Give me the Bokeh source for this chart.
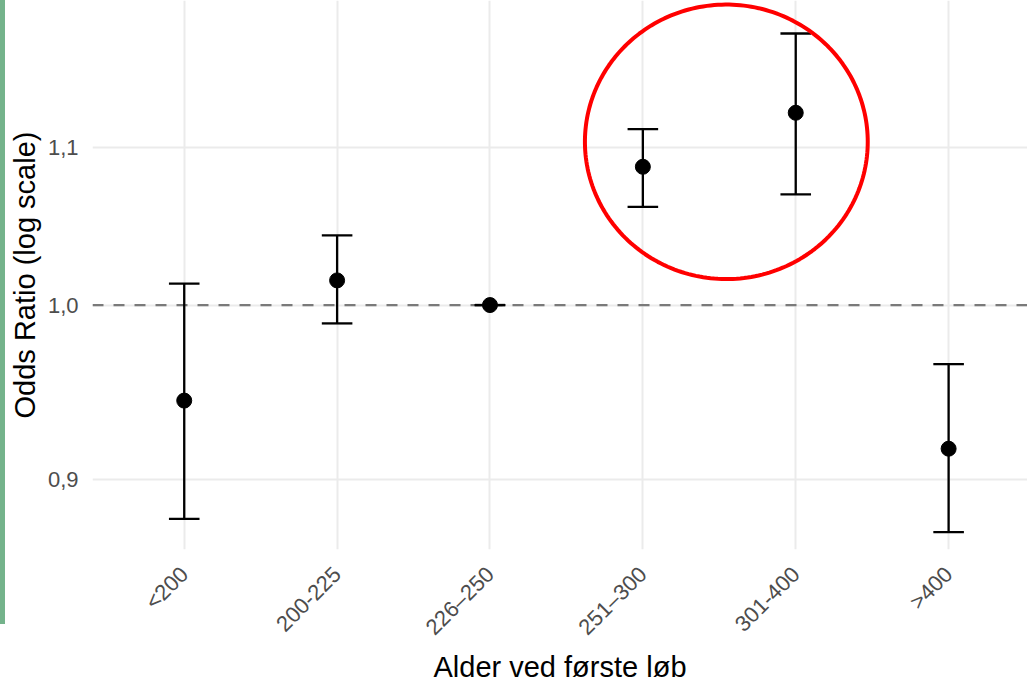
import numpy as np
from bokeh.plotting import figure
from bokeh.models import Range1d, FixedTicker, Span, Spacer
from bokeh.layouts import row
from bokeh.embed import file_html
from bokeh.resources import INLINE

# ---- data ----
categories = ["<200", "200-225", "226\u2013250", "251\u2013300", "301-400", ">400"]
odds_ratio = [0.944, 1.015, 1.000, 1.087, 1.123, 0.917]
ci_lower = [0.879, 0.989, 1.000, 1.061, 1.069, 0.872]
ci_upper = [1.013, 1.043, 1.000, 1.112, 1.178, 0.965]
y_ticks = [0.9, 1.0, 1.1]
y_tick_labels = ["0,9", "1,0", "1,1"]
highlight = ["251\u2013300", "301-400"]

xs = [i + 1 for i in range(len(categories))]

p = figure(width=1022, height=685, y_axis_type="log",
           x_range=Range1d(0.4, 6.516), y_range=Range1d(0.8629, 1.2017),
           output_backend="svg", toolbar_location=None,
           min_border_left=87, min_border_right=0, min_border_top=0, min_border_bottom=135)
p.outline_line_color = None
p.background_fill_color = "white"
p.border_fill_color = "white"

# grids
p.xgrid.grid_line_color = "#EBEBEB"
p.ygrid.grid_line_color = "#EBEBEB"
p.xgrid.grid_line_width = 2
p.ygrid.grid_line_width = 2
p.ygrid.minor_grid_line_color = None

# axes
p.xaxis.ticker = FixedTicker(ticks=xs)
p.xaxis.major_label_overrides = {x: c for x, c in zip(xs, categories)}
p.yaxis.ticker = FixedTicker(ticks=y_ticks, minor_ticks=[])
p.yaxis.major_label_overrides = {t: l for t, l in zip(y_ticks, y_tick_labels)}
for ax in (p.xaxis, p.yaxis):
    ax.axis_line_color = None
    ax.major_tick_line_color = None
    ax.minor_tick_line_color = None
    ax.major_tick_out = 0
    ax.major_tick_in = 0
    ax.minor_tick_out = 0
    ax.minor_tick_in = 0
    ax.major_label_text_color = "#4D4D4D"
    ax.major_label_text_font = "Liberation Sans"
    ax.major_label_text_font_size = "22px"
    ax.axis_label_text_font = "Liberation Sans"
    ax.axis_label_text_font_size = "29px"
    ax.axis_label_text_font_style = "normal"
    ax.axis_label_text_color = "black"
p.xaxis.major_label_orientation = np.pi / 4
p.xaxis.major_label_standoff = 21
p.yaxis.major_label_standoff = 14
p.xaxis.axis_label = "Alder ved første løb"
p.yaxis.axis_label = "Odds Ratio (log scale)"
p.xaxis.axis_label_standoff = -1
p.yaxis.axis_label_standoff = 4

# reference line
ref = Span(location=1.0, dimension="width", line_color="#7A7A7A",
           line_width=2.2, line_dash="11 10", level="underlay")
p.add_layout(ref)

# error bars
cap = 0.1
p.segment(x0=xs, y0=ci_lower, x1=xs, y1=ci_upper, line_color="black", line_width=2.3)
p.segment(x0=[x - cap for x in xs], y0=ci_lower, x1=[x + cap for x in xs], y1=ci_lower,
          line_color="black", line_width=2.3)
p.segment(x0=[x - cap for x in xs], y0=ci_upper, x1=[x + cap for x in xs], y1=ci_upper,
          line_color="black", line_width=2.3)
p.scatter(xs, odds_ratio, size=15, color="black")

# highlight ellipse around two groups
hx = [xs[categories.index(c)] for c in highlight]
cx = np.mean(hx) + 0.046
cy = np.log(1.1035)
rx, ry = 0.925, 0.0828
t = np.linspace(0, 2 * np.pi, 240)
p.line(cx + rx * np.cos(t), np.exp(cy + ry * np.sin(t)), line_color="#FF0000", line_width=4)

bar = Spacer(width=5, height=624, styles={"background-color": "#74B38B"})
layout = row(bar, p)

open("out.html", "w").write(file_html(layout, INLINE))
